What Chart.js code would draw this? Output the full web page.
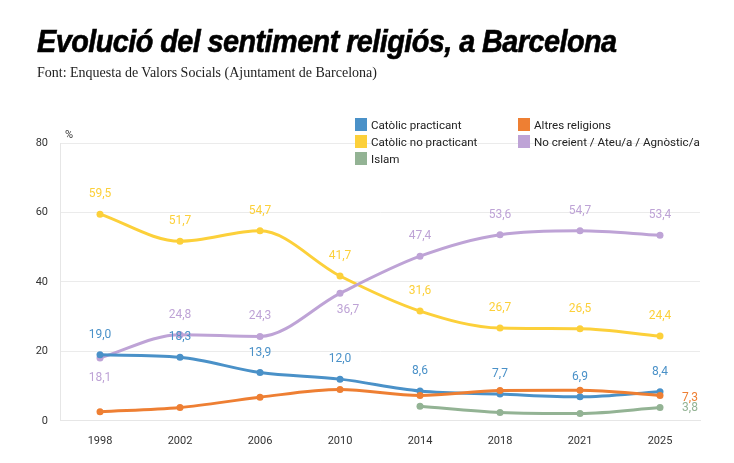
<!DOCTYPE html>
<html>
<head>
<meta charset="utf-8">
<script src="https://cdn.jsdelivr.net/npm/chart.js@4"></script>
<style>
  body { margin: 0; background: #fff; width: 734px; height: 463px; position: relative; overflow: hidden; }
  #title { position: absolute; left: 37px; top: 24px; font: italic 900 31px "Liberation Sans", sans-serif; letter-spacing: -0.6px; color: #000; transform: scaleX(0.93); transform-origin: left top; -webkit-text-stroke: 0.6px #000; }
  #sub { position: absolute; left: 37px; top: 65px; font: 14px "Liberation Serif", serif; color: #222; }
  #legend { position: absolute; left: 355px; top: 118px; font: 11.6px Roboto, sans-serif; color: #222; }
  .item { position: absolute; white-space: nowrap; line-height: 14px; }
  .item span { display: inline-block; width: 12px; height: 13px; vertical-align: -2px; margin-right: 4px; }
  #wrap { position: absolute; left: 0; top: 0; width: 734px; height: 463px; }
</style>
</head>
<body>
<div id="wrap"><canvas id="chart"></canvas></div>
<div id="title">Evolució del sentiment religiós, a Barcelona</div>
<div id="sub">Font: Enquesta de Valors Socials (Ajuntament de Barcelona)</div>
<div id="legend"></div>
<script>
const years = ['1998', '2002', '2006', '2010', '2014', '2018', '2021', '2025']
const practicant = [19.0, 18.3, 13.9, 12.0, 8.6, 7.7, 6.9, 8.4]
const noPracticant = [59.5, 51.7, 54.7, 41.7, 31.6, 26.7, 26.5, 24.4]
const noCreient = [18.1, 24.8, 24.3, 36.7, 47.4, 53.6, 54.7, 53.4]
const altres = [2.6, 3.8, 6.8, 9.0, 7.3, 8.7, 8.8, 7.3]
const islam = [null, null, null, null, 4.2, 2.4, 2.1, 3.8]
const yTicks = [0, 20, 40, 60, 80]

// label placement per series: 'up', 'down', 'right', or null (none)
const series = [
  { label: 'Altres religions', data: altres, color: '#ee7f33', pos: [null, null, null, null, null, null, null, 'right'] },
  { label: 'Islam', data: islam, color: '#93b394', pos: [null, null, null, null, null, null, null, 'rightlow'] },
  { label: 'Catòlic practicant', data: practicant, color: '#4a91c8', pos: ['up', 'up', 'up', 'up', 'up', 'up', 'up', 'up'] },
  { label: 'No creient / Ateu/a / Agnòstic/a', data: noCreient, color: '#bea3d6', pos: ['down', 'up', 'up', 'downright', 'up', 'up', 'up', 'up'] },
  { label: 'Catòlic no practicant', data: noPracticant, color: '#fcd03a', pos: ['up', 'up', 'up', 'up', 'up', 'up', 'up', 'up'] }
]

// legend, two columns like the original
const legendItems = [
  ['Catòlic practicant', '#4a91c8', 0, 0], ['Altres religions', '#ee7f33', 163, 0],
  ['Catòlic no practicant', '#fcd03a', 0, 17], ['No creient / Ateu/a / Agnòstic/a', '#bea3d6', 163, 17],
  ['Islam', '#93b394', 0, 34]
]
const legend = document.getElementById('legend')
legendItems.forEach(([t, c, x, y]) => {
  const d = document.createElement('div')
  d.className = 'item'
  d.style.left = x + 'px'
  d.style.top = y + 'px'
  d.innerHTML = '<span style="background:' + c + '"></span>' + t
  legend.appendChild(d)
})

const labelsPlugin = {
  id: 'pointLabels',
  afterDatasetsDraw(chart) {
    const ctx = chart.ctx
    ctx.save()
    ctx.font = '12px Roboto, sans-serif'
    chart.data.datasets.forEach((ds, i) => {
      const meta = chart.getDatasetMeta(i)
      meta.data.forEach((pt, j) => {
        const p = series[i].pos[j]
        if (!p || ds.data[j] == null) return
        const txt = ds.data[j].toFixed(1).replace('.', ',')
        ctx.fillStyle = ds.borderColor
        ctx.textAlign = 'center'
        ctx.textBaseline = 'middle'
        let x = pt.x, y = pt.y
        if (p === 'up') y -= 20
        if (p === 'down') y += 20
        if (p === 'downright') { x += 8; y += 17 }
        if (p === 'right') { x += 30; y += 3 }
        if (p === 'rightlow') { x += 30; y += 0 }
        ctx.fillText(txt, x, y)
      })
    })
    ctx.fillStyle = '#333'
    ctx.textAlign = 'left'
    ctx.font = '11px Roboto, sans-serif'
    ctx.fillText('%', chart.chartArea.left + 5, chart.chartArea.top - 8)
    ctx.restore()
  }
}

new Chart(document.getElementById('chart'), {
  type: 'line',
  data: {
    labels: years,
    datasets: series.map(s => ({
      label: s.label,
      data: s.data,
      borderColor: s.color,
      backgroundColor: s.color,
      borderWidth: 3,
      pointRadius: 3.5,
      pointBorderWidth: 0,
      tension: 0.4,
      cubicInterpolationMode: 'monotone',
      spanGaps: false
    }))
  },
  options: {
    responsive: true,
    maintainAspectRatio: false,
    animation: false,
    layout: { padding: { top: 143, right: 34, bottom: 9, left: 0 } },
    plugins: { legend: { display: false }, tooltip: { enabled: false } },
    scales: {
      x: {
        offset: true,
        grid: { display: false },
        border: { color: '#e6e6e6' },
        ticks: { color: '#333', font: { family: 'Roboto', size: 11 }, padding: 6 }
      },
      y: {
        min: 0, max: 80,
        afterFit(scale) { scale.width = 60 },
        afterBuildTicks(scale) { scale.ticks = yTicks.map(v => ({ value: v })) },
        grid: { color: '#ebebeb', drawTicks: false },
        border: { color: '#e6e6e6' },
        ticks: { color: '#333', font: { family: 'Roboto', size: 11 }, padding: 12 }
      }
    }
  },
  plugins: [labelsPlugin]
})
</script>
</body>
</html>
